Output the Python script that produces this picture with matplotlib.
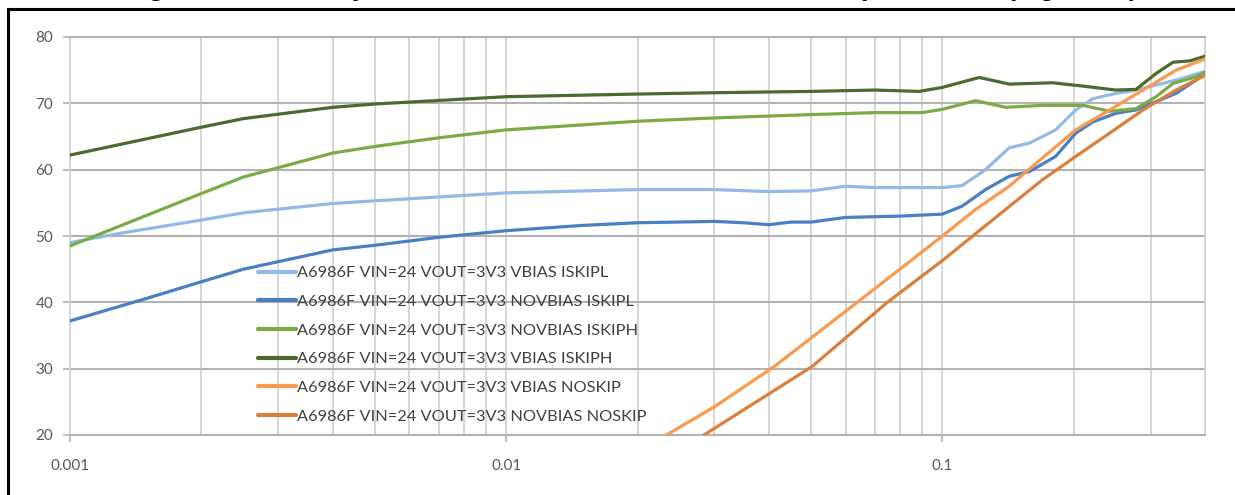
import matplotlib
matplotlib.use("Agg")
import matplotlib.pyplot as plt
from matplotlib.patches import Rectangle
from matplotlib.ticker import FixedLocator, NullFormatter

plt.rcParams["font.family"] = ["Lato", "DejaVu Sans"]

# ---- data (x = load current, y = efficiency %) ----
x_vbias_iskipl = [0.001, 0.0013, 0.002, 0.0025, 0.004, 0.005, 0.01, 0.02, 0.03, 0.04,
                  0.05, 0.06, 0.07, 0.1, 0.111, 0.1256, 0.1423, 0.1582, 0.1818, 0.2022,
                  0.2213, 0.2499, 0.2734, 0.3432, 0.4]
y_vbias_iskipl = [49.0, 50.4, 52.4, 53.5, 54.9, 55.3, 56.5, 57.0, 57.0, 56.7,
                  56.8, 57.5, 57.3, 57.3, 57.6, 60.0, 63.3, 64.0, 66.0, 69.0,
                  70.7, 71.5, 71.9, 73.5, 74.8]

x_novbias_iskipl = [0.001, 0.0015, 0.002, 0.0025, 0.004, 0.005, 0.007, 0.01, 0.015, 0.02,
                    0.03, 0.035, 0.04, 0.045, 0.05, 0.06, 0.08, 0.1, 0.111, 0.1256,
                    0.1423, 0.1582, 0.1818, 0.2022, 0.2213, 0.2499, 0.2778, 0.3432, 0.4]
y_novbias_iskipl = [37.2, 40.6, 43.1, 45.0, 47.9, 48.6, 49.8, 50.8, 51.6, 52.0,
                    52.2, 52.0, 51.7, 52.1, 52.1, 52.8, 53.0, 53.3, 54.5, 57.0,
                    59.0, 59.7, 62.0, 65.5, 67.2, 68.5, 69.0, 71.5, 74.4]

x_novbias_iskiph = [0.001, 0.002, 0.0025, 0.004, 0.005, 0.007, 0.01, 0.02, 0.03, 0.05,
                    0.07, 0.09, 0.1, 0.1191, 0.1396, 0.1698, 0.2098, 0.2417, 0.2778, 0.3089,
                    0.3379, 0.3815, 0.4]
y_novbias_iskiph = [48.5, 56.4, 58.9, 62.5, 63.5, 64.8, 66.0, 67.3, 67.8, 68.3,
                    68.6, 68.6, 69.1, 70.4, 69.4, 69.7, 69.7, 68.8, 69.2, 71.0,
                    73.0, 74.0, 74.7]

x_vbias_iskiph = [0.001, 0.002, 0.0025, 0.004, 0.005, 0.01, 0.02, 0.03, 0.05, 0.07,
                  0.0885, 0.1, 0.1215, 0.1423, 0.179, 0.2098, 0.2499, 0.2778, 0.3089, 0.3379,
                  0.369, 0.4]
y_vbias_iskiph = [62.2, 66.4, 67.7, 69.4, 69.9, 71.0, 71.4, 71.6, 71.8, 72.0,
                  71.8, 72.4, 73.9, 72.9, 73.1, 72.6, 72.0, 72.1, 74.5, 76.2,
                  76.4, 77.1]

x_vbias_noskip = [0.0233, 0.0301, 0.0411, 0.0638, 0.1, 0.1191, 0.1423, 0.1698, 0.2022,
                  0.2417, 0.2883, 0.3432, 0.4]
y_vbias_noskip = [20.0, 24.3, 30.3, 40.0, 50.0, 54.0, 57.5, 61.8, 66.0,
                  69.0, 72.0, 75.0, 76.7]

x_novbias_noskip = [0.0284, 0.0502, 0.0748, 0.1, 0.1396, 0.1698, 0.2022, 0.2417, 0.2883,
                    0.3432, 0.4]
y_novbias_noskip = [20.0, 30.3, 40.0, 46.3, 54.0, 58.5, 62.0, 65.5, 69.0,
                    72.0, 74.2]

series = [
    ("A6986F VIN=24 VOUT=3V3 VBIAS ISKIPL", x_vbias_iskipl, y_vbias_iskipl, "#93BAE4"),
    ("A6986F VIN=24 VOUT=3V3 NOVBIAS ISKIPL", x_novbias_iskipl, y_novbias_iskipl, "#4A7FC1"),
    ("A6986F VIN=24 VOUT=3V3 NOVBIAS ISKIPH", x_novbias_iskiph, y_novbias_iskiph, "#7AAB45"),
    ("A6986F VIN=24 VOUT=3V3 VBIAS ISKIPH", x_vbias_iskiph, y_vbias_iskiph, "#4B6A2E"),
    ("A6986F VIN=24 VOUT=3V3 VBIAS NOSKIP", x_vbias_noskip, y_vbias_noskip, "#F99B4E"),
    ("A6986F VIN=24 VOUT=3V3 NOVBIAS NOSKIP", x_novbias_noskip, y_novbias_noskip, "#D9803C"),
]

W, H = 1235, 495
fig = plt.figure(figsize=(W / 100, H / 100), dpi=100)
ax = fig.add_axes([70 / W, 1 - 435 / H, (1205 - 70) / W, (435 - 37) / H])

for label, xs, ys, col in series:
    ax.plot(xs, ys, color=col, lw=2.3, label=label, solid_capstyle="round",
            solid_joinstyle="round", zorder=3)

ax.set_xscale("log")
ax.set_xlim(0.001, 0.4)
ax.set_ylim(20, 80)
ax.set_yticks(range(20, 81, 10))
ax.xaxis.set_major_locator(FixedLocator([0.001, 0.01, 0.1]))
ax.set_xticklabels(["0.001", "0.01", "0.1"])
minors = [m * d for d in (0.001, 0.01, 0.1) for m in range(2, 10) if m * d < 0.4]
ax.xaxis.set_minor_locator(FixedLocator(minors))
ax.xaxis.set_minor_formatter(NullFormatter())

# excel-like gridlines
ax.grid(axis="x", which="both", color="#d3d3d3", lw=1.3, zorder=1)
ax.grid(axis="y", which="major", color="#b3b3b3", lw=1.5, zorder=1)
ax.set_axisbelow(True)
for s in ("top", "bottom"):
    ax.spines[s].set_color("#b3b3b3")
    ax.spines[s].set_linewidth(1.5)
for s in ("left", "right"):
    ax.spines[s].set_color("#d3d3d3")
    ax.spines[s].set_linewidth(1.3)

ax.tick_params(axis="both", which="major", colors="#b3b3b3", length=5, width=1.2,
               labelcolor="#595959", labelsize=11)
ax.tick_params(axis="y", pad=7)
ax.tick_params(axis="x", pad=12)
ax.tick_params(axis="x", which="minor", length=0)

leg = ax.legend(loc="upper left", bbox_to_anchor=(258 / W, 1 - 266 / H),
                bbox_transform=fig.transFigure, frameon=False, fontsize=11.75,
                handlelength=2.33, handletextpad=0.05, labelspacing=0.87,
                borderpad=0, borderaxespad=0)
for t in leg.get_texts():
    t.set_color("#404040")
for h in leg.get_lines():
    h.set_linewidth(3)

# screenshot frame and the caption above it, cut off by the top edge
fig.patches.append(Rectangle((8 / W, -0.1), 1.2, 1 - 8.7 / H + 0.1, transform=fig.transFigure,
                             fill=False, ec="black", lw=2.2, clip_on=False))
fig.text(124 / W, 1 + 4.2 / H,
         r"Figure 6. Efficiency curves at V$_{\mathbf{IN}}$=24V, V$_{\mathbf{OUT}}$ = 3.3 V vs. output current (log scale)",
         ha="left", va="baseline", fontsize=19, fontweight="bold",
         family=["Liberation Sans", "DejaVu Sans"], color="black")

fig.savefig("out.png", dpi=100)
